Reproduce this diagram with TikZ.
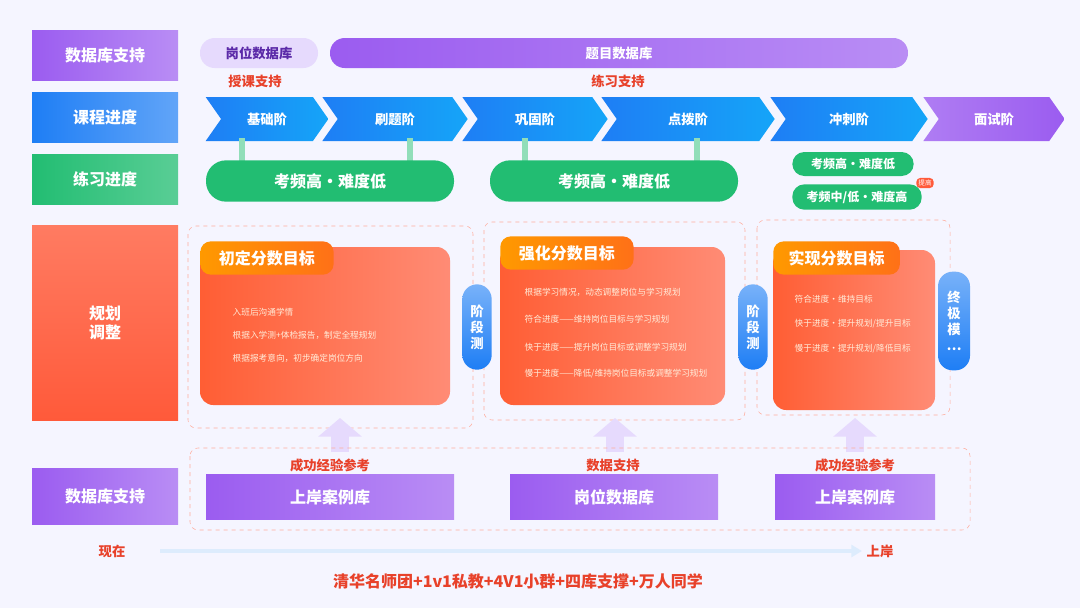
\documentclass[tikz,border=0pt]{standalone}
\usepackage{fontspec}
\setmainfont{Noto Sans CJK SC}
\usetikzlibrary{shapes.symbols,arrows.meta}
\definecolor{pur}{HTML}{9B5CF0}
\definecolor{lpur}{HTML}{E6DAFD}
\definecolor{dpur}{HTML}{5B2AA8}
\definecolor{blu}{HTML}{1E7EF5}
\definecolor{grn}{HTML}{22BD72}
\definecolor{org}{HTML}{FF5A3A}
\definecolor{tred}{HTML}{E8412A}
\tikzset{
  sidebox/.style  = {rectangle, minimum width=109.5pt, minimum height=37.5pt,
                     text=white, font=\large\bfseries, align=center},
  pill/.style     = {rounded corners=11pt, minimum height=22.5pt, font=\bfseries},
  chev/.style     = {signal, signal to=east, signal from=west, signal pointer angle=110,
                     minimum height=33pt, text=white, font=\bfseries, inner sep=0pt,
                     left color=blu, right color=blu!70!cyan},
  greenpill/.style= {fill=grn, rounded corners=15pt, text=white, font=\large\bfseries},
  dashbox/.style  = {draw=org!50, dashed, rounded corners=6pt},
  card/.style     = {rounded corners=10pt, left color=org!90!orange, right color=org!70!white},
  tab/.style      = {rounded corners=8pt, left color=orange!80!yellow, right color=orange!60!org, text=white, font=\large\bfseries},
  cardtxt/.style  = {text=white!85!orange, font=\fontsize{6.5}{8}\selectfont, align=left, anchor=west},
  testpill/.style = {rounded corners=11pt, top color=blu!60, bottom color=blu,
                     text=white, font=\bfseries, align=center},
  dbbox/.style    = {left color=pur, right color=pur!70, text=white, font=\large\bfseries},
  redlbl/.style   = {text=tred, font=\bfseries}
}
\begin{document}
\begin{tikzpicture}[x=0.75pt,y=-0.75pt]
\useasboundingbox[fill=white!96!blue] (0,0) rectangle (1080,608);
% side labels
\node[sidebox, left color=pur, right color=pur!70] (s1) at (105,55) {数据库支持};
\node[sidebox, left color=blu, right color=blu!70] (s2) at (105,117) {课程进度};
\node[sidebox, left color=grn, right color=grn!75] (s3) at (105,179) {练习进度};
\node[sidebox, minimum height=146pt, top color=org!80, bottom color=org] (s4) at (105,323) {规划\\调整};
\node[sidebox, minimum height=42pt, left color=pur, right color=pur!70] (s5) at (105,496) {数据库支持};
% database row
\path[pill, fill=lpur] (200,38) rectangle (318,68);
\node[text=dpur, font=\bfseries] (jdb) at (259,53) {岗位数据库};
\path[pill, left color=pur, right color=pur!70] (330,38) rectangle (908,68);
\node[text=white, font=\bfseries] (tdb) at (619,53) {题目数据库};
\node[redlbl] (l1) at (255,81) {授课支持};
\node[redlbl] (l2) at (618,81) {练习支持};
% course chevrons
\node[chev, minimum width=92pt] (c1) at (267,119) {基础阶};
\node[chev, minimum width=109pt] (c2) at (395,119) {刷题阶};
\node[chev, minimum width=109pt] (c3) at (535,119) {巩固阶};
\node[chev, minimum width=130pt] (c4) at (688,119) {点拨阶};
\node[chev, minimum width=118pt] (c5) at (849,119) {冲刺阶};
\node[chev, minimum width=106pt, left color=pur!80, right color=pur] (c6) at (994,119) {面试阶};
% practice
\foreach \x in {242,410,525,697}
  \draw[grn!50, line width=4pt] (\x,138) -- (\x,162);
\node[greenpill, minimum width=186pt, minimum height=31pt] (p1) at (330,181) {考频高·难度低};
\node[greenpill, minimum width=186pt, minimum height=31pt] (p2) at (614,181) {考频高·难度低};
\node[greenpill, font=\small\bfseries, rounded corners=9pt, minimum width=91pt, minimum height=18pt] (p3) at (853,164) {考频高·难度低};
\node[greenpill, font=\small\bfseries, rounded corners=9pt, minimum width=97pt, minimum height=19pt] (p4) at (857,197) {考频中/低·难度高};
\node[fill=org, text=white, font=\fontsize{5}{6}\selectfont, rounded corners=3pt, inner sep=1.5pt] (tag) at (925,183) {提高};
% planning
\draw[dashbox] (188,226) rectangle (473,428);
\draw[dashbox] (484,222) rectangle (745,420);
\draw[dashbox] (757,220) rectangle (950,415);
\path[card] (200,247) rectangle (450,405);
\path[card] (500,247) rectangle (725,405);
\path[card] (773,250) rectangle (935,410);
\node[tab, anchor=west, minimum width=100pt, minimum height=25pt] (t1) at (200,258) {初定分数目标};
\node[tab, anchor=west, minimum width=100pt, minimum height=25pt] (t2) at (500,253) {强化分数目标};
\node[tab, anchor=west, minimum width=95pt, minimum height=25pt] (t3) at (773,258) {实现分数目标};
\node[cardtxt] (a1) at (228,312) {入班后沟通学情};
\node[cardtxt] (a2) at (228,335) {根据入学测+体检报告，制定全程规划};
\node[cardtxt] (a3) at (228,358) {根据报考意向，初步确定岗位方向};
\node[cardtxt] (b1) at (520,292) {根据学习情况，动态调整岗位与学习规划};
\node[cardtxt] (b2) at (520,319) {符合进度——维持岗位目标与学习规划};
\node[cardtxt] (b3) at (520,347) {快于进度——提升岗位目标或调整学习规划};
\node[cardtxt] (b4) at (520,374) {慢于进度——降低/维持岗位目标或调整学习规划};
\node[cardtxt] (e1) at (790,299) {符合进度·维持目标};
\node[cardtxt] (e2) at (790,324) {快于进度·提升规划/提升目标};
\node[cardtxt] (e3) at (790,349) {慢于进度·提升规划/降低目标};
\node[testpill, minimum width=22pt, minimum height=64pt] (m1) at (477,327) {阶\\段\\测};
\node[testpill, minimum width=22pt, minimum height=64pt] (m2) at (753,327) {阶\\段\\测};
\node[testpill, minimum width=24pt, minimum height=74pt] (m3) at (954,321) {终\\极\\模\\…};
% support
\foreach \x in {340,615,855}
  \draw[lpur, line width=14pt, -{Triangle[width=32pt,length=14pt]}] (\x,452) -- (\x,418);
\draw[dashbox] (190,448) rectangle (970,530);
\node[redlbl] (r1) at (330,465) {成功经验参考};
\node[redlbl] (r2) at (613,465) {数据支持};
\node[redlbl] (r3) at (855,465) {成功经验参考};
\node[dbbox, minimum width=186pt, minimum height=34pt] (d1) at (330,497) {上岸案例库};
\node[dbbox, minimum width=156pt, minimum height=34pt] (d2) at (614,497) {岗位数据库};
\node[dbbox, minimum width=120pt, minimum height=34pt] (d3) at (855,497) {上岸案例库};
% timeline
\node[redlbl] (now) at (112,551) {现在};
\node[redlbl] (end) at (880,551) {上岸};
\draw[blu!15, line width=3pt, -{Triangle[width=9pt,length=8pt]}] (now.east)++(30,0) -- (end.west);
\node[redlbl, font=\large\bfseries] (slogan) at (518,581) {清华名师团+1v1私教+4V1小群+四库支撑+万人同学};
\end{tikzpicture}
\end{document}
